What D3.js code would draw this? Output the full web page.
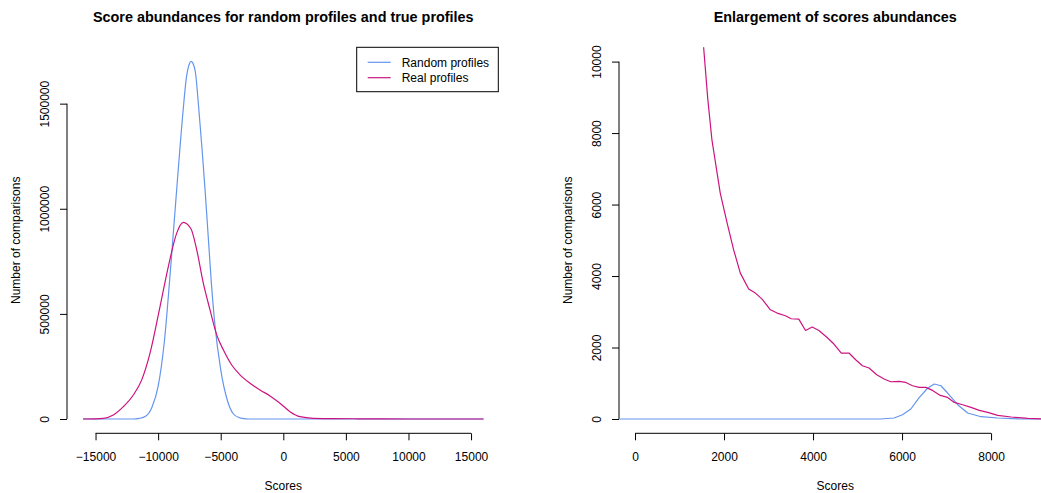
<!DOCTYPE html>
<html>
<head>
<meta charset="utf-8">
<script src="https://d3js.org/d3.v7.min.js"></script>
<style>
  body { margin: 0; background: #fff; }
  svg { font-family: 'Liberation Sans', Arial, Helvetica, sans-serif; }
  .axis text { font-size: 12px; fill: #000; }
  .axis line, .axis path { stroke: #000; fill: none; }
  .title { font-size: 14.4px; font-weight: bold; }
  .label { font-size: 12px; }
  .legend text { font-size: 12px; }
</style>
</head>
<body>
<script>
// left panel: whole score range
var randomScores = [-16000, -12000, -11500, -11000, -10500, -10000, -9500, -9000, -8500, -8000, -7750, -7500, -7372, -7250, -7000, -6789, -6500, -6250, -6000, -5750, -5500, -5000, -4500, -4000, -3500, -3000, -2600, 16000];
var randomCounts = [0, 0, 3000, 13000, 55000, 155000, 370000, 720000, 1105000, 1470000, 1620000, 1690000, 1701000, 1695000, 1640000, 1503000, 1290000, 1090000, 870000, 650000, 470000, 235000, 95000, 25000, 6000, 1000, 0, 0];

var realScores = [-16000, -14377, -13578, -12780, -11981, -11310, -10647, -9848, -9185, -8514, -7990, -7380, -6917, -6390, -5855, -5319, -4792, -4121, -3458, -2660, -1861, -1062, -264, 535, 1334, 2396, 4000, 6000, 8000, 10000, 16000];
var realCounts = [0, 3300, 19000, 58600, 114000, 186000, 313000, 535000, 725000, 884000, 935000, 905000, 805000, 646000, 519000, 400000, 329000, 257000, 210000, 170000, 138000, 110000, 75000, 35000, 11000, 3300, 2000, 1000, 200, 0, 0];

// right panel: enlargement
var zoomRandomScores = [-400, 5521, 5821, 6010, 6197, 6385, 6573, 6723, 6873, 7024, 7249, 7474, 7775, 8151, 8675, 9400];
var zoomRandomCounts = [0, 0, 28, 120, 280, 600, 860, 979, 931, 727, 400, 168, 64, 28, 0, 0];

var zoomRealScores = [1380, 1540, 1635, 1728, 1915, 2066, 2216, 2366, 2554, 2704, 2855, 3042, 3193, 3380, 3509, 3680, 3831, 3981, 4131, 4304, 4469, 4635, 4807, 4958, 5109, 5258, 5431, 5596, 5746, 5933, 6085, 6235, 6385, 6535, 6686, 6858, 7024, 7173, 7362, 7549, 7736, 7925, 8151, 8451, 8827, 9149, 9400];
var zoomRealCounts = [12600, 10420, 8950, 7810, 6320, 5500, 4734, 4082, 3635, 3523, 3355, 3056, 2964, 2889, 2805, 2796, 2478, 2572, 2478, 2293, 2097, 1846, 1846, 1658, 1491, 1426, 1239, 1119, 1043, 1051, 1023, 931, 884, 884, 800, 660, 604, 464, 400, 324, 240, 185, 101, 56, 17, 0, 0];

var leftTicksX = [-15000, -10000, -5000, 0, 5000, 10000, 15000];
var leftTicksY = [0, 500000, 1000000, 1500000];
var rightTicksX = [0, 2000, 4000, 6000, 8000];
var rightTicksY = [0, 2000, 4000, 6000, 8000, 10000];

var legendLabels = ["Random profiles", "Real profiles"];
var colors = ["#6495ED", "#CC1480"];

var svg = d3.select("body").append("svg")
    .attr("width", 1041)
    .attr("height", 493);

var plotTop = 47.3, plotH = 386, plotW = 432.6;

function drawPanel(id, left, xlim, ylim, xticks, yticks, title, series, curve) {
    var xpad = 0.04 * (xlim[1] - xlim[0]);
    var ypad = 0.04 * (ylim[1] - ylim[0]);
    var x = d3.scaleLinear().domain([xlim[0] - xpad, xlim[1] + xpad]).range([left, left + plotW]);
    var y = d3.scaleLinear().domain([ylim[0] - ypad, ylim[1] + ypad]).range([plotTop + plotH, plotTop]);
    var bottom = plotTop + plotH;
    var fmt = d3.format("d");

    svg.append("clipPath").attr("id", id)
        .append("rect")
        .attr("x", left).attr("y", plotTop)
        .attr("width", plotW).attr("height", plotH);

    // x axis
    var gx = svg.append("g")
        .attr("class", "axis")
        .attr("transform", "translate(0," + bottom + ")")
        .call(d3.axisBottom(x).tickValues(xticks).tickSize(7).tickFormat(fmt));
    gx.select(".domain").attr("d", "M" + x(xticks[0]) + ",0H" + x(xticks[xticks.length - 1]));
    gx.selectAll("text").attr("y", 27.7).attr("dy", null);

    // y axis
    var gy = svg.append("g")
        .attr("class", "axis")
        .attr("transform", "translate(" + left + ",0)")
        .call(d3.axisLeft(y).tickValues(yticks).tickSize(7).tickFormat(fmt));
    gy.select(".domain").attr("d", "M0," + y(yticks[0]) + "V" + y(yticks[yticks.length - 1]));
    gy.selectAll("text")
        .attr("x", 0).attr("y", -18).attr("dy", null)
        .attr("transform", "rotate(-90)")
        .attr("text-anchor", "middle");

    // titles
    svg.append("text")
        .attr("class", "title")
        .attr("x", left + plotW / 2).attr("y", 22)
        .attr("text-anchor", "middle")
        .text(title);
    svg.append("text")
        .attr("class", "label")
        .attr("x", left + plotW / 2).attr("y", 490)
        .attr("text-anchor", "middle")
        .text("Scores");
    svg.append("text")
        .attr("class", "label")
        .attr("transform", "translate(" + (left - 47.5) + "," + (plotTop + plotH / 2) + ") rotate(-90)")
        .attr("text-anchor", "middle")
        .text("Number of comparisons");

    var line = d3.line()
        .x(function(d) { return x(d[0]); })
        .y(function(d) { return y(d[1]); })
        .curve(curve);

    var g = svg.append("g").attr("clip-path", "url(#" + id + ")");
    series.forEach(function(s, i) {
        g.append("path")
            .datum(d3.zip(s[0], s[1]))
            .attr("fill", "none")
            .attr("stroke", colors[i])
            .attr("stroke-width", 1.2)
            .attr("stroke-linejoin", "round")
            .attr("d", line);
    });
}

drawPanel("clipL", 67, [-16000, 16000], [0, 1700000], leftTicksX, leftTicksY,
    "Score abundances for random profiles and true profiles",
    [[randomScores, randomCounts], [realScores, realCounts]], d3.curveMonotoneX);

drawPanel("clipR", 619, [0, 9000], [0, 10000], rightTicksX, rightTicksY,
    "Enlargement of scores abundances",
    [[zoomRandomScores, zoomRandomCounts], [zoomRealScores, zoomRealCounts]], d3.curveLinear);

// legend (left panel, top right corner)
var legend = svg.append("g").attr("class", "legend");
legend.append("rect")
    .attr("x", 356.7).attr("y", plotTop)
    .attr("width", 141.6).attr("height", 44.4)
    .attr("fill", "#fff").attr("stroke", "#000");
legendLabels.forEach(function(d, i) {
    var ly = 62.3 + i * 15.4;
    legend.append("line")
        .attr("x1", 367.7).attr("x2", 390.7)
        .attr("y1", ly).attr("y2", ly)
        .attr("stroke", colors[i]).attr("stroke-width", 1.2);
    legend.append("text")
        .attr("x", 401.7).attr("y", ly)
        .attr("dy", "0.35em")
        .text(d);
});
</script>
</body>
</html>
